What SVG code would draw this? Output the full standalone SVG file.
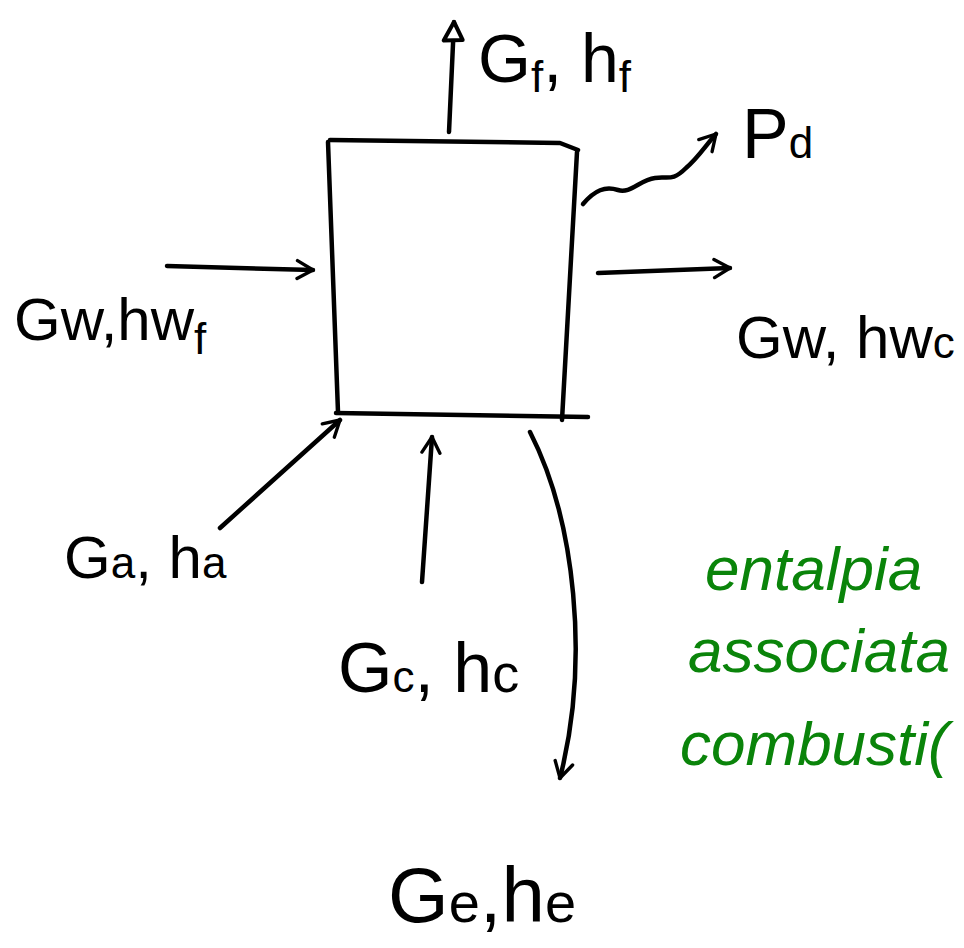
<svg xmlns="http://www.w3.org/2000/svg" width="964" height="948" viewBox="0 0 964 948">
<defs>
<style>
.ln{fill:none;stroke:#000;stroke-width:4.5;stroke-linecap:round;stroke-linejoin:round}
.lb{font-family:"Liberation Sans",Arial,sans-serif;font-size:60px;fill:#000}
.sb{font-size:44px}
.gr{font-family:"Liberation Sans",Arial,sans-serif;font-size:62px;fill:#0a840a;font-style:italic}
</style>
<marker id="chev" viewBox="0 0 20 20" refX="16" refY="10" markerWidth="5" markerHeight="5" orient="auto" markerUnits="strokeWidth">
<path d="M2,2 L16,10 L2,18" fill="none" stroke="#000" stroke-width="3" stroke-linecap="round" stroke-linejoin="round"/>
</marker>
<marker id="tri" viewBox="0 0 20 20" refX="17" refY="10" markerWidth="6" markerHeight="6" orient="auto" markerUnits="strokeWidth">
<path d="M17,10 L3,3 L4,17 Z" fill="#fff" stroke="#000" stroke-width="3" stroke-linejoin="round"/>
</marker>
</defs>
<rect width="964" height="948" fill="#fff"/>
<g id="box">
<path class="ln" d="M328,142 L338,412"/>
<path class="ln" d="M330,140 L560,143 L578,150"/>
<path class="ln" d="M577,152 L562,420"/>
<path class="ln" d="M336,413 L588,417"/>
</g>
<g id="connectors">
<path class="ln" d="M449,132 L454,22" marker-end="url(#tri)"/>
<path class="ln" d="M583,204 C595,190 605,186 618,190 C630,194 640,180 655,178 C668,176 672,182 686,168 C698,158 706,145 716,134" marker-end="url(#chev)"/>
<path class="ln" d="M167,266 L313,270" marker-end="url(#chev)"/>
<path class="ln" d="M598,273 L730,268" marker-end="url(#chev)"/>
<path class="ln" d="M220,528 L340,420" marker-end="url(#chev)"/>
<path class="ln" d="M422,582 L432,437" marker-end="url(#chev)"/>
<path class="ln" d="M530,432 C575,520 590,660 560,778" marker-end="url(#chev)"/>
</g>
<g id="label-gf"><text class="lb" x="478" y="82" style="font-size:68px">G<tspan class="sb" dy="10">f</tspan><tspan dy="-10">, h</tspan><tspan class="sb" dy="10">f</tspan></text></g>
<g id="label-pd"><text class="lb" x="742" y="158" style="font-size:70px">P<tspan class="sb">d</tspan></text></g>
<g id="label-gwf"><text class="lb" x="14" y="340">Gw,hw<tspan class="sb" dy="14">f</tspan></text></g>
<g id="label-gwc"><text class="lb" x="736" y="358">Gw, hw<tspan class="sb">c</tspan></text></g>
<g id="label-ga"><text class="lb" x="64" y="578">G<tspan class="sb">a</tspan><tspan>, h</tspan><tspan class="sb">a</tspan></text></g>
<g id="label-gc"><text class="lb" x="338" y="692" style="font-size:70px">G<tspan class="sb">c</tspan><tspan>, h</tspan><tspan style="font-size:54px">c</tspan></text></g>
<g id="label-ge"><text class="lb" x="388" y="922" style="font-size:78px">G<tspan style="font-size:56px">e</tspan><tspan>,h</tspan><tspan style="font-size:56px">e</tspan></text></g>
<g id="note">
<text class="gr" x="705" y="590">entalpia</text>
<text class="gr" x="688" y="672">associata</text>
<text class="gr" x="680" y="765">combusti(</text>
</g>
</svg>
